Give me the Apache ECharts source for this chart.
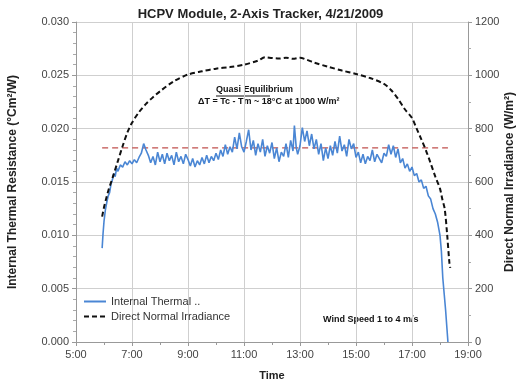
<!DOCTYPE html>
<html><head><meta charset="utf-8">
<script src="https://cdn.jsdelivr.net/npm/echarts@6/dist/echarts.min.js"></script>
<style>html,body{margin:0;padding:0;background:#fff}#c{width:521px;height:381px}</style>
</head><body><div id="c"></div>
<script>
const title = 'HCPV Module, 2-Axis Tracker, 4/21/2009';
const thermalName = 'Internal Thermal ..';
const dniName = 'Direct Normal Irradiance';
const thermalTimes = ['5:56','5:58','6:00','6:03','6:06','6:09','6:12','6:15','6:18','6:21','6:24','6:27','6:30','6:35','6:40','6:45','6:50','6:55',
'7:00','7:05','7:10','7:15','7:20','7:25','7:30','7:35','7:40','7:45','7:50','7:55',
'8:00','8:05','8:10','8:15','8:20','8:25','8:30','8:35','8:40','8:45','8:50','8:55',
'9:00','9:05','9:10','9:15','9:20','9:25','9:30','9:35','9:40','9:45','9:50','9:55',
'10:00','10:05','10:10','10:15','10:20','10:25','10:30','10:35','10:40','10:45','10:50','10:55',
'11:00','11:05','11:10','11:15','11:20','11:25','11:30','11:35','11:40','11:45','11:50','11:55',
'12:00','12:05','12:10','12:15','12:20','12:25','12:30','12:35','12:40','12:45','12:48','12:52','12:55',
'13:00','13:05','13:10','13:15','13:20','13:25','13:30','13:35','13:40','13:45','13:50','13:55',
'14:00','14:05','14:10','14:15','14:20','14:25','14:30','14:35','14:40','14:45','14:50','14:55',
'15:00','15:05','15:10','15:15','15:20','15:25','15:30','15:35','15:40','15:45','15:50','15:55',
'16:00','16:05','16:10','16:15','16:20','16:25','16:30','16:35','16:40','16:45','16:50','16:55',
'17:00','17:05','17:10','17:15','17:20','17:25','17:30','17:35','17:40','17:45','17:50','17:55',
'18:00','18:03','18:06','18:09','18:12','18:15','18:17'];
const thermalValues = [0.0088,0.0102,0.0113,0.0124,0.0131,0.0137,0.0140,0.0148,0.0152,0.0158,0.0155,0.0163,0.0160,0.0166,0.0164,0.0169,0.0166,0.0170,
0.0167,0.0171,0.0168,0.0173,0.0177,0.0186,0.0180,0.0175,0.0168,0.0174,0.0166,0.0178,
0.0169,0.0176,0.0167,0.0177,0.0170,0.0175,0.0166,0.0178,0.0169,0.0174,0.0167,0.0176,
0.0171,0.0165,0.0172,0.0164,0.0170,0.0166,0.0173,0.0167,0.0175,0.0168,0.0174,0.0170,
0.0177,0.0171,0.0180,0.0174,0.0185,0.0176,0.0183,0.0178,0.0192,0.0181,0.0196,0.0183,
0.0178,0.0188,0.0199,0.0180,0.0189,0.0175,0.0186,0.0178,0.0190,0.0174,0.0184,0.0177,
0.0187,0.0172,0.0182,0.0169,0.0178,0.0174,0.0186,0.0173,0.0189,0.0179,0.0203,0.0182,0.0176,
0.0184,0.0201,0.0188,0.0198,0.0184,0.0195,0.0181,0.0190,0.0176,0.0186,0.0170,0.0182,
0.0172,0.0184,0.0175,0.0188,0.0177,0.0193,0.0179,0.0185,0.0174,0.0190,0.0181,0.0186,
0.0173,0.0178,0.0168,0.0176,0.0167,0.0174,0.0170,0.0180,0.0169,0.0176,0.0172,0.0168,
0.0177,0.0174,0.0185,0.0176,0.0184,0.0173,0.0181,0.0168,0.0172,0.0163,0.0167,0.0160,
0.0164,0.0156,0.0158,0.0150,0.0152,0.0144,0.0146,0.0137,0.0134,0.0125,0.0120,0.0112,
0.0100,0.0085,0.0060,0.0045,0.0030,0.0012,0.0000];
const dniTimes = ['5:56','6:00','6:05','6:10','6:15','6:20','6:30','6:40','6:50','7:00','7:15','7:30','7:45','8:00','8:30','9:00','9:30','10:00','10:30','11:00','11:30','11:45','12:00','12:15','12:30','12:45','13:00','13:15','13:30','14:00','14:30','15:00','15:30','16:00','16:15','16:30','16:45','17:00','17:10','17:20','17:30','17:40','17:50','18:00','18:05','18:10','18:15','18:20','18:22'];
const dniValues = [470,505,540,572,598,625,680,735,785,822,862,893,918,940,978,1003,1015,1025,1031,1040,1055,1068,1065,1063,1066,1062,1066,1058,1048,1032,1018,1005,990,968,945,912,872,840,800,760,718,670,620,575,535,500,410,300,278];
const equilibriumTimes = ['5:56','18:17'];
const equilibriumValue = 0.0182;

const toH = s => { const [h, m] = s.split(':').map(Number); return h + m / 60; };
const pair = (ts, vs) => ts.map((t, i) => [toH(t), vs[i]]);
const F = 'Liberation Sans, Arial, sans-serif';
const chart = echarts.init(document.getElementById('c'));
chart.setOption({
  animation: false,
  title: { text: title, left: 'center', top: 3, textStyle: { fontFamily: F, fontSize: 13, fontWeight: 'bold', color: '#222' } },
  grid: { left: 76, right: 53, top: 22, bottom: 39, outerBoundsMode: 'none', containLabel: false },
  legend: {
    data: [thermalName, dniName], orient: 'vertical', left: 78, top: 291, itemGap: 4, itemWidth: 22, itemHeight: 10,
    itemStyle: { opacity: 0 },
    textStyle: { fontFamily: F, fontSize: 11, color: '#333' }
  },
  xAxis: {
    type: 'value', min: 5, max: 19, interval: 2,
    name: 'Time', nameLocation: 'middle', nameGap: 28, nameMoveOverlap: false,
    nameTextStyle: { fontFamily: F, fontSize: 11, fontWeight: 'bold', color: '#222' },
    axisLine: { lineStyle: { color: '#999' } },
    axisTick: { show: true, lineStyle: { color: '#999' }, length: 4 },
    minorTick: { show: true, splitNumber: 2, length: 3, lineStyle: { color: '#999' } },
    axisLabel: { fontFamily: F, fontSize: 11, color: '#444', margin: 7, formatter: v => v + ':00' },
    splitLine: { show: true, lineStyle: { color: '#cfcfcf' } }
  },
  yAxis: [{
    type: 'value', min: 0, max: 0.03, interval: 0.005,
    name: 'Internal Thermal Resistance (°Cm²/W)', nameLocation: 'middle', nameGap: 57, nameMoveOverlap: false,
    nameTextStyle: { fontFamily: F, fontSize: 12, fontWeight: 'bold', color: '#222' },
    axisLine: { show: true, lineStyle: { color: '#999' } },
    axisTick: { show: true, lineStyle: { color: '#999' }, length: 4 },
    minorTick: { show: true, splitNumber: 5, length: 3, lineStyle: { color: '#aaa' } },
    axisLabel: { fontFamily: F, fontSize: 11, color: '#444', margin: 7, formatter: v => v.toFixed(3) },
    splitLine: { show: true, lineStyle: { color: '#cfcfcf' } }
  }, {
    type: 'value', min: 0, max: 1200, interval: 200, position: 'right',
    name: 'Direct Normal Irradiance (W/m²)', nameLocation: 'middle', nameGap: 36, nameRotate: 90, nameMoveOverlap: false,
    nameTextStyle: { fontFamily: F, fontSize: 12, fontWeight: 'bold', color: '#222' },
    axisLine: { show: true, lineStyle: { color: '#999' } },
    axisTick: { show: true, lineStyle: { color: '#999' }, length: 4 },
    minorTick: { show: true, splitNumber: 2, length: 3, lineStyle: { color: '#aaa' } },
    axisLabel: { fontFamily: F, fontSize: 11, color: '#444', margin: 7, formatter: v => String(v) },
    splitLine: { show: false }
  }],
  graphic: [
    { type: 'text', left: 216, top: 85, style: { text: 'Quasi Equilibrium', font: 'bold 9px ' + F, fill: '#111' } },
    { type: 'line', shape: { x1: 216, y1: 96, x2: 270, y2: 96 }, style: { stroke: '#111', lineWidth: 1 } },
    { type: 'text', left: 198, top: 97, style: { text: 'ΔT = Tc - Tm ~ 18°C at 1000 W/m²', font: 'bold 9px ' + F, fill: '#111' } },
    { type: 'text', left: 323, top: 315, style: { text: 'Wind Speed 1 to 4 m/s', font: 'bold 9px ' + F, fill: '#111' } }
  ],
  series: [
    { name: thermalName, type: 'line', yAxisIndex: 0, symbol: 'none', data: pair(thermalTimes, thermalValues),
      lineStyle: { color: '#4a86d4', width: 1.6 }, itemStyle: { color: '#4a86d4' }, z: 3 },
    { name: dniName, type: 'line', yAxisIndex: 1, symbol: 'none', smooth: 0.3, data: pair(dniTimes, dniValues),
      lineStyle: { color: '#111', width: 2, type: [5, 3] }, itemStyle: { color: '#111' }, z: 4 },
    { name: 'Quasi Equilibrium', type: 'line', yAxisIndex: 0, symbol: 'none',
      data: equilibriumTimes.map(t => [toH(t), equilibriumValue]),
      lineStyle: { color: '#c0504d', width: 1.3, type: [6, 4] }, z: 2 }
  ]
});
</script></body></html>
